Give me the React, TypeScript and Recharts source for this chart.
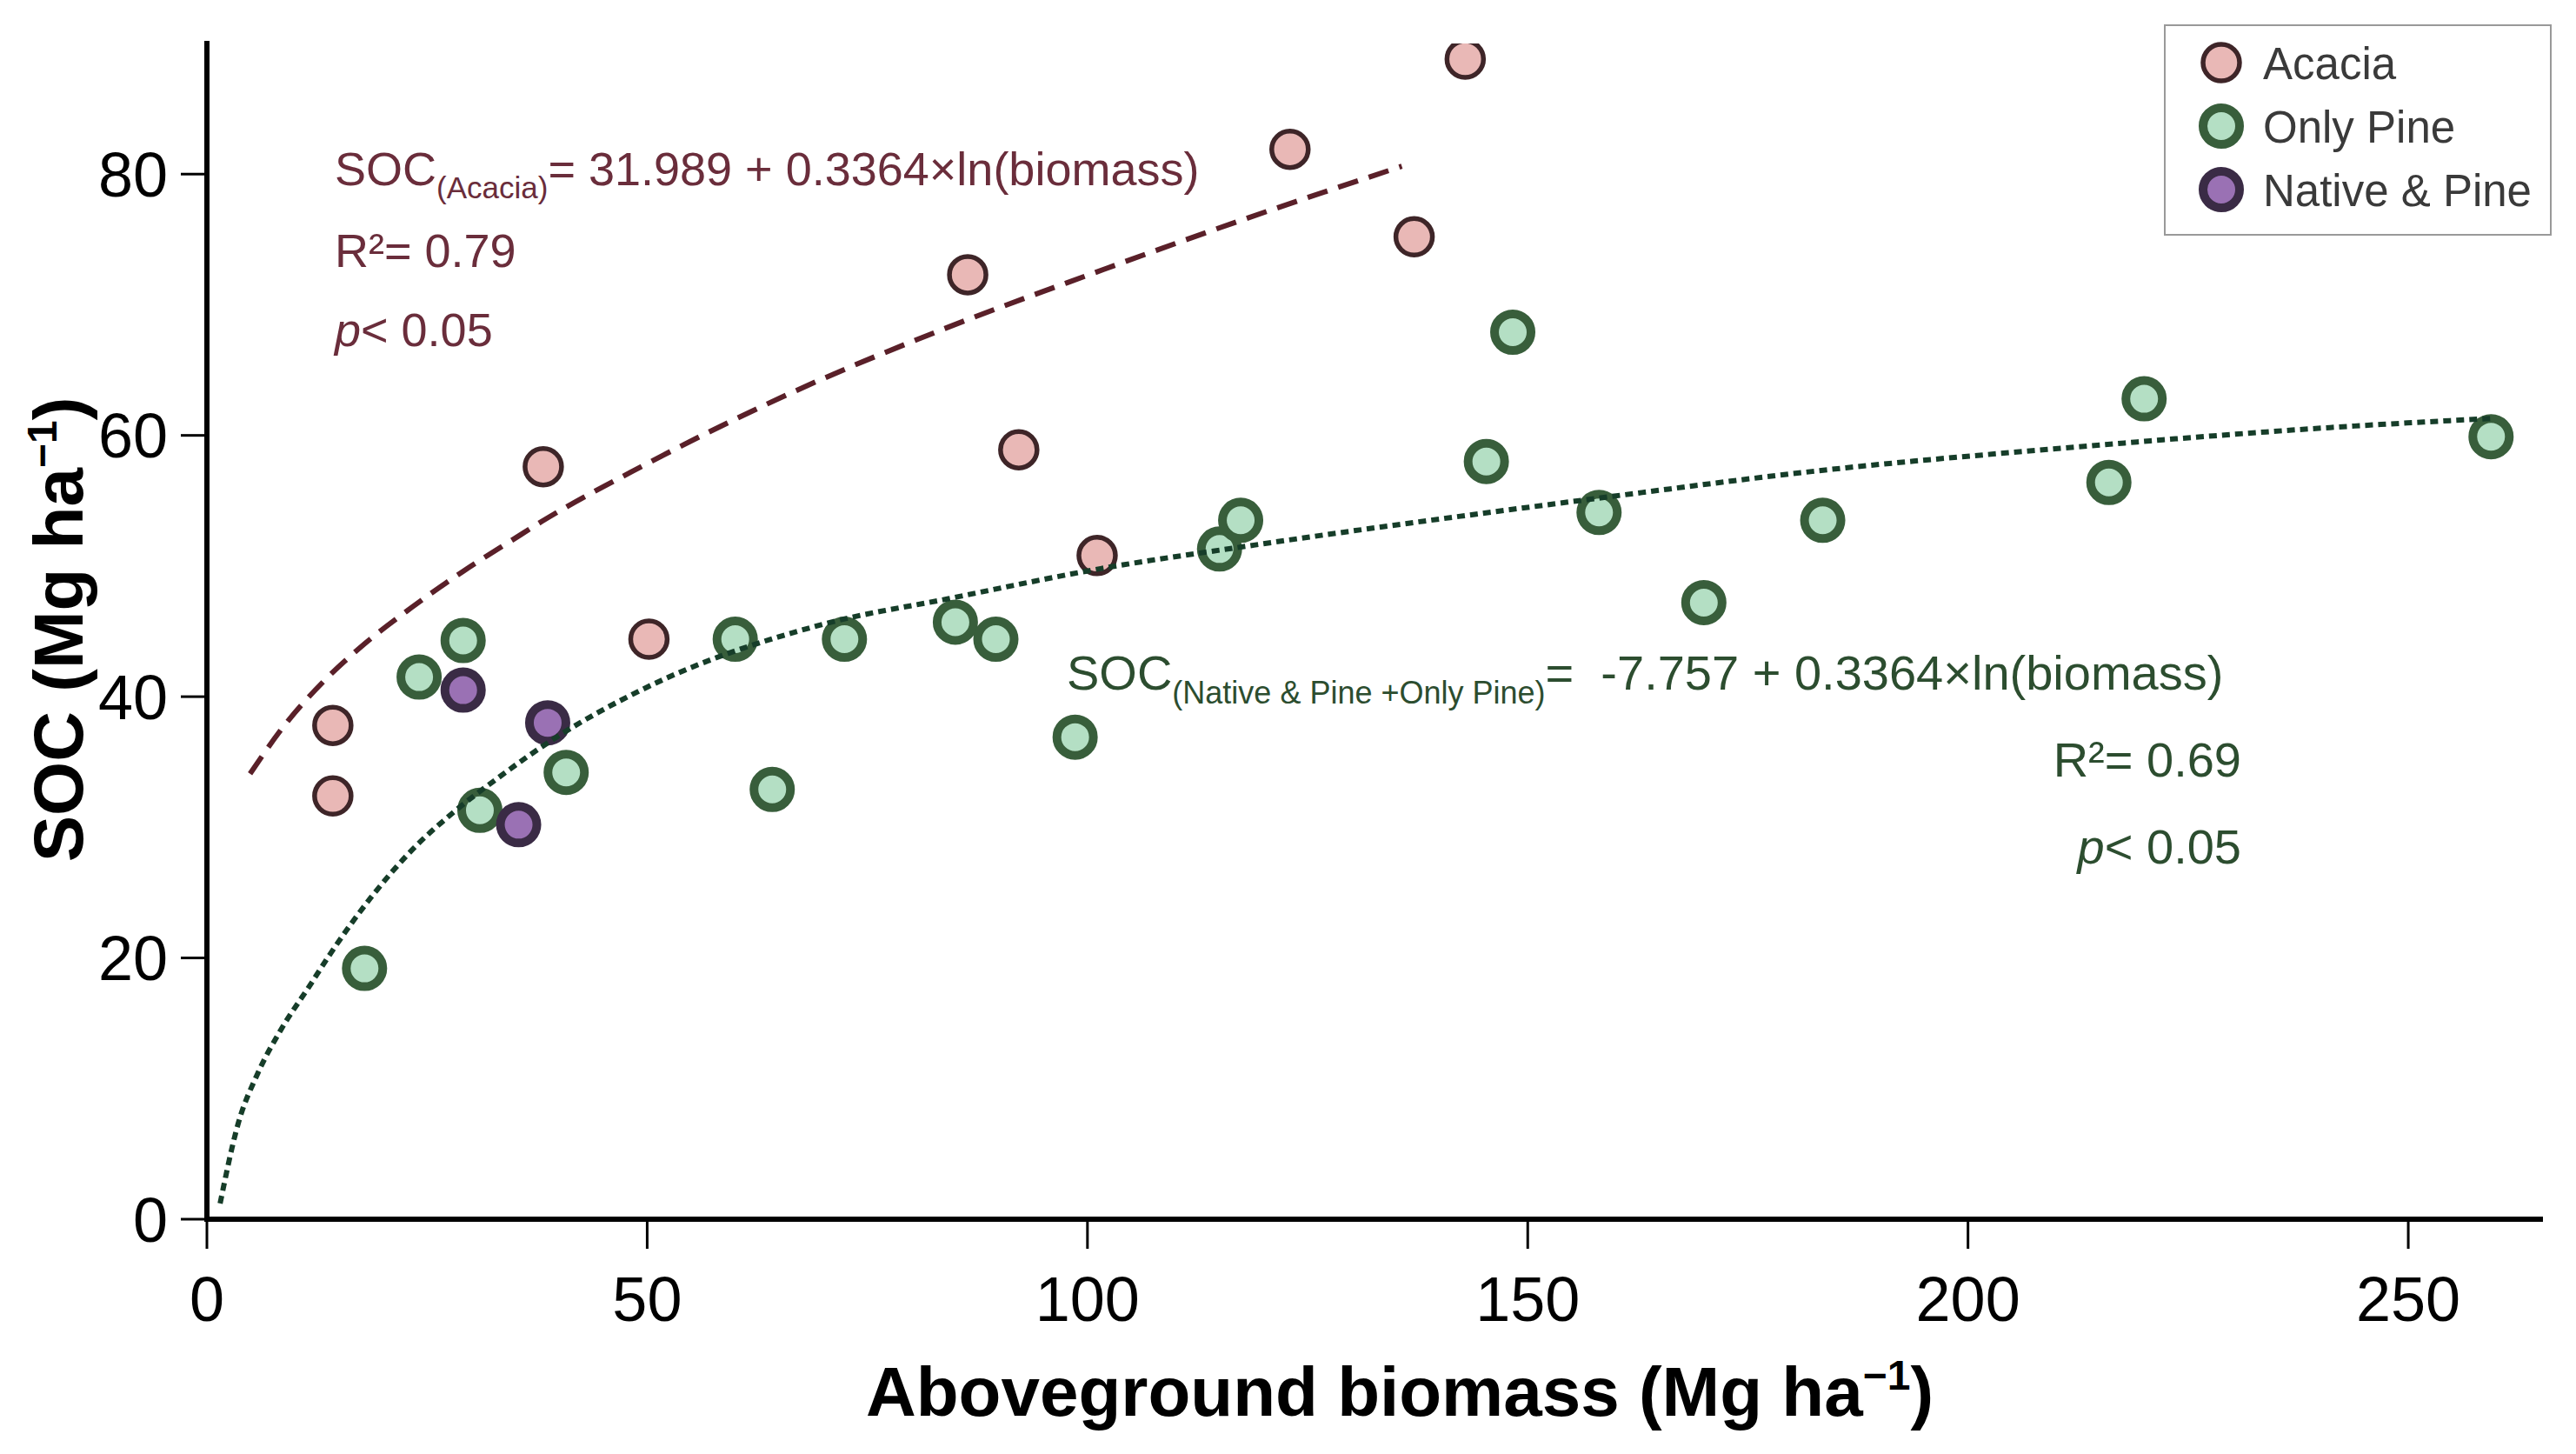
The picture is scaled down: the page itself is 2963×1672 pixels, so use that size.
import React from 'react';
import { ScatterChart, Scatter, XAxis, YAxis, Legend, Label } from 'recharts';

const FONT = '"Liberation Sans", Arial, Helvetica, sans-serif';

// Acacia plots
const acaciaBiomass = [14.3, 14.3, 38.2, 50.2, 86.4, 92.2, 101.1, 123.0, 137.1, 142.9];
const acaciaSoc = [37.8, 32.4, 57.6, 44.4, 72.3, 58.9, 50.8, 81.9, 75.2, 88.8];

// Only Pine plots
const pineBiomass = [17.9, 24.1, 29.1, 31.0, 40.8, 60.0, 64.2, 72.4, 85.0, 89.6, 98.6, 115.0, 117.4, 145.3, 148.3, 158.1, 170.0, 183.5, 216.0, 220.0, 259.4];
const pineSoc = [19.2, 41.5, 44.3, 31.3, 34.2, 44.4, 32.9, 44.4, 45.7, 44.4, 36.9, 51.3, 53.5, 58.0, 67.9, 54.1, 47.2, 53.5, 56.4, 62.8, 59.9];

// Native & Pine plots
const nativeBiomass = [29.1, 38.7, 35.4];
const nativeSoc = [40.5, 38.0, 30.2];

// fitted curves
const acaciaFitX = [4.9, 8.8, 13.3, 18.0, 23.2, 29.1, 34.7, 38.0, 49.6, 66.5, 83.5, 100.6, 117.6, 135.7];
const acaciaFitY = [34.1, 37.8, 41.2, 44.1, 46.8, 49.6, 52.0, 53.4, 57.7, 63.3, 68.1, 72.4, 76.5, 80.6];
const pineFitX = [1.5, 3.5, 5.8, 8.4, 11.7, 14.0, 18.6, 23.2, 28.1, 33.1, 39.7, 49.6, 70.3, 84.2, 101.5, 118.9, 158.1, 183.1, 212.1, 241.1, 259.5];
const pineFitY = [1.2, 7.2, 11.2, 14.5, 17.9, 20.3, 24.6, 28.2, 31.2, 33.8, 36.9, 40.6, 45.6, 47.5, 49.8, 51.6, 55.2, 57.3, 59.1, 60.6, 61.3];

const xTicks = [0, 50, 100, 150, 200, 250];
const yTicks = [0, 20, 40, 60, 80];

const zip = (xs: number[], ys: number[]) => xs.map((x, i) => ({ x, y: ys[i] }));

const SERIES = [
  { name: 'Acacia', fill: '#E9B8B6', stroke: '#3E2528', width: 5.5 },
  { name: 'Only Pine', fill: '#B4DFC4', stroke: '#385E3B', width: 10 },
  { name: 'Native & Pine', fill: '#9A71B4', stroke: '#3A2B45', width: 10 },
];

const dot = (s: typeof SERIES[number]) => (p: any) => (
  <circle cx={p.cx} cy={p.cy} r={21} fill={s.fill} stroke={s.stroke} strokeWidth={s.width} />
);

const noDot = () => <g />;

function LegendBox() {
  return (
    <svg width={446} height={243} style={{ display: 'block' }}>
      <rect x={1} y={1} width={444} height={241} fill="#fff" stroke="#999" strokeWidth={2} />
      {SERIES.map((s, i) => (
        <g key={s.name}>
          <circle cx={66} cy={44 + i * 73} r={21} fill={s.fill} stroke={s.stroke} strokeWidth={s.width} />
          <text x={114} y={63 + i * 73} fontSize={51} fill="#3a3a3a" fontFamily={FONT}>{s.name}</text>
        </g>
      ))}
    </svg>
  );
}

function XTitle(props: any) {
  const vb = props.viewBox || { x: 238, y: 1402, width: 2684 };
  return (
    <text x={vb.x + vb.width / 2 + 30} y={vb.y + 226} textAnchor="middle" fontSize={80} fontWeight="bold" fill="#000" fontFamily={FONT}>
      Aboveground biomass (Mg ha<tspan fontSize={48} dy={-30}>−1</tspan><tspan dy={30}>)</tspan>
    </text>
  );
}

function YTitle(props: any) {
  const vb = props.viewBox || { x: 0, y: 50, width: 238, height: 1352 };
  const cy = vb.y + vb.height / 2 - 2;
  return (
    <text x={95} y={cy} transform={`rotate(-90 95 ${cy})`} textAnchor="middle" fontSize={80} fontWeight="bold" fill="#000" fontFamily={FONT}>
      SOC (Mg ha<tspan fontSize={48} dy={-30}>−1</tspan><tspan dy={30}>)</tspan>
    </text>
  );
}

const ACACIA_TEXT = '#6A2D3B';
const PINE_TEXT = '#2C4D2F';

export default function App() {
  return (
    <div style={{ position: 'absolute', left: 0, top: 0, width: 2963, height: 1672, background: '#fff' }}>
      <ScatterChart width={2963} height={1672} margin={{ top: 50, right: 41, bottom: 0, left: 0 }}>
        <XAxis
          type="number"
          dataKey="x"
          domain={[0, 265]}
          ticks={xTicks}
          allowDataOverflow
          height={270}
          tickSize={34}
          tickMargin={32}
          axisLine={{ stroke: '#000', strokeWidth: 6, strokeLinecap: 'square' }}
          tickLine={{ stroke: '#000', strokeWidth: 3 }}
          tick={{ fontSize: 72, fill: '#000', fontFamily: FONT }}
        >
          <Label content={XTitle} />
        </XAxis>
        <YAxis
          type="number"
          dataKey="y"
          domain={[0, 90]}
          ticks={yTicks}
          allowDataOverflow
          width={238}
          tickSize={30}
          tickMargin={15}
          axisLine={{ stroke: '#000', strokeWidth: 6, strokeLinecap: 'square' }}
          tickLine={{ stroke: '#000', strokeWidth: 3 }}
          tick={{ fontSize: 72, fill: '#000', fontFamily: FONT }}
        >
          <Label content={YTitle} />
        </YAxis>
        <Legend
          layout="horizontal"
          verticalAlign="middle"
          align="center"
          content={() => <LegendBox />}
          wrapperStyle={{ position: 'absolute', left: 2489, top: 28, width: 446, height: 243 }}
        />
        <Scatter name="Acacia" data={zip(acaciaBiomass, acaciaSoc)} shape={dot(SERIES[0])} isAnimationActive={false} />
        <Scatter name="Only Pine" data={zip(pineBiomass, pineSoc)} shape={dot(SERIES[1])} isAnimationActive={false} />
        <Scatter name="Native & Pine" data={zip(nativeBiomass, nativeSoc)} shape={dot(SERIES[2])} isAnimationActive={false} />
        <Scatter
          name="Acacia fit"
          legendType="none"
          data={zip(acaciaFitX, acaciaFitY)}
          shape={noDot}
          line={{ stroke: '#5A2029', strokeWidth: 6, strokeDasharray: '24 13' }}
          lineJointType="monotoneX"
          isAnimationActive={false}
        />
        <Scatter
          name="Pine fit"
          legendType="none"
          data={zip(pineFitX, pineFitY)}
          shape={noDot}
          line={{ stroke: '#163D29', strokeWidth: 6, strokeDasharray: '9 6' }}
          lineJointType="monotoneX"
          isAnimationActive={false}
        />
      </ScatterChart>
      <svg width={2963} height={1672} style={{ position: 'absolute', left: 0, top: 0, pointerEvents: 'none' }} fontFamily={FONT}>
        <g fill={ACACIA_TEXT} fontSize={54}>
          <text x={385} y={213}>
            SOC<tspan fontSize={35} dy={15}>(Acacia)</tspan><tspan dy={-15}>= 31.989 + 0.3364×ln(biomass)</tspan>
          </text>
          <text x={385} y={307}>R²= 0.79</text>
          <text x={385} y={398}>
            <tspan fontStyle="italic">p</tspan>{'< 0.05'}
          </text>
        </g>
        <g fill={PINE_TEXT} fontSize={56}>
          <text x={1227} y={793} style={{ whiteSpace: 'pre' }}>
            SOC<tspan fontSize={36} dy={16}>{'(Native & Pine +Only Pine)'}</tspan><tspan dy={-16}>{'=  -7.757 + 0.3364×ln(biomass)'}</tspan>
          </text>
          <text x={2578} y={893} textAnchor="end">R²= 0.69</text>
          <text x={2578} y={993} textAnchor="end">
            <tspan fontStyle="italic">p</tspan>{'< 0.05'}
          </text>
        </g>
      </svg>
    </div>
  );
}
